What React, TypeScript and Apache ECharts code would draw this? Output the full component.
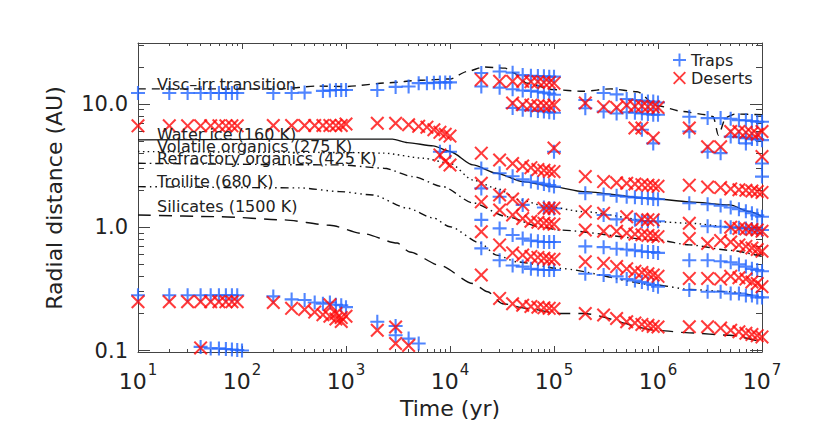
import React, { useEffect, useRef } from "react";
import * as echarts from "echarts";

// ---------- boundary lines: [time (yr), radial distance (AU)] ----------
const viscIrrLine = [[10, 13.3], [232, 13.3], [525, 14.0], [1000, 13.9], [2630, 14.9], [5100, 15.6], [1e4, 16.0], [1.46e4, 18.4], [2.1e4, 20.0], [3.4e4, 19.6], [4.1e4, 17.9], [5.5e4, 14.8], [9.8e4, 13.1], [1.9e5, 12.7], [3.5e5, 13.3], [6.3e5, 12.6], [9.8e5, 9.7], [1.74e6, 8.7], [2.9e6, 8.2], [3.4e6, 7.9], [3.8e6, 5.6], [4.5e6, 7.8], [5.5e6, 8.3], [1e7, 8.2]];
const waterIceLine = [[10, 5.13], [1100, 5.2], [2800, 5.2], [3900, 4.87], [6900, 4.58], [1e4, 4.12], [1.66e4, 3.21], [2.8e4, 2.75], [5e4, 2.35], [9.8e4, 2.14], [1.9e5, 1.95], [8.3e5, 1.72], [2e6, 1.61], [4.9e6, 1.52], [7.6e6, 1.34], [1e7, 1.22]];
const volatileLine = [[10, 4.12], [1000, 4.05], [2300, 4.0], [5500, 3.64], [1e4, 3.31], [1.66e4, 2.42], [2.8e4, 2.07], [4.7e4, 1.67], [8.1e4, 1.49], [1.9e5, 1.34], [9.8e5, 1.11], [2e6, 1.08], [4.9e6, 1.01], [1e7, 0.89]];
const refractoryLine = [[10, 3.31], [870, 3.21], [2300, 3.02], [4400, 2.58], [8500, 2.14], [1.66e4, 1.58], [3.5e4, 1.22], [7.4e4, 1.01], [1.1e5, 0.95], [9.8e5, 0.79], [2e6, 0.72], [4.9e6, 0.65], [1e7, 0.58]];
const troiliteLine = [[10, 2.14], [360, 2.09], [870, 1.95], [1800, 1.83], [3900, 1.43], [6900, 1.19], [1e4, 1.01], [1.95e4, 0.745], [2.8e4, 0.595], [4.4e4, 0.525], [1.1e5, 0.464], [9.8e5, 0.34], [2e6, 0.313], [4.9e6, 0.30], [1e7, 0.27]];
const silicatesLine = [[10, 1.26], [62, 1.22], [248, 1.15], [700, 1.04], [1450, 0.89], [3100, 0.745], [4100, 0.63], [8000, 0.49], [1.66e4, 0.35], [2.3e4, 0.30], [3.2e4, 0.24], [5.5e4, 0.22], [1.1e5, 0.2], [1.9e5, 0.2], [9.8e5, 0.146], [2e6, 0.139], [4.9e6, 0.133], [1e7, 0.117]];

const lineNames = ["Visc\u2013irr transition", "Water ice (160 K)", "Volatile organics (275 K)", "Refractory organics (425 K)", "Troilite (680 K)", "Silicates (1500 K)"];

// ---------- traps (+) ----------
const trapsEarlyOuter = [[10, 12.3], [20, 12.3], [30, 12.3], [40, 12.3], [50, 12.3], [60, 12.3], [70, 12.3], [80, 12.3], [90, 12.3], [200, 12.3], [300, 12.3], [400, 12.4], [600, 12.8], [700, 12.9], [800, 13.0], [900, 13.0], [1000, 13.0], [2000, 13.0], [3000, 13.8], [4000, 13.9], [5000, 14.8], [6000, 14.8], [7000, 14.9], [8000, 15.0], [9000, 15.0], [1e4, 15.0]];
const trapsEarlyInner = [[10, 0.281], [20, 0.281], [30, 0.281], [40, 0.281], [50, 0.281], [60, 0.281], [70, 0.281], [80, 0.281], [90, 0.281], [200, 0.275], [300, 0.26], [400, 0.257], [500, 0.245], [600, 0.24], [700, 0.245], [800, 0.235], [900, 0.233], [1000, 0.225], [2000, 0.171], [3000, 0.158], [3000, 0.133], [4000, 0.125], [5000, 0.114]];
const trapsEarlyBottom = [[40, 0.107], [50, 0.104], [60, 0.104], [70, 0.103], [80, 0.102], [90, 0.101], [100, 0.1]];
const trapsMidEarly = [[8000, 4.1], [1e4, 4.1], [1e5, 4.1]];
const trapsVisc = [[2e4, 17.9], [2e4, 13.9], [3e4, 18.4], [3e4, 13.6], [4e4, 18.0], [4e4, 13.2], [4e4, 9.3], [5e4, 17.2], [5e4, 12.9], [5e4, 9.0], [6e4, 17.0], [6e4, 12.8], [6e4, 8.9], [7e4, 16.9], [7e4, 12.6], [7e4, 8.8], [8e4, 16.8], [8e4, 12.4], [8e4, 8.7], [9e4, 16.7], [9e4, 12.2], [9e4, 8.6], [1e5, 16.7], [1e5, 11.9], [1e5, 8.5]];
const trapsViscLate = [[2e5, 10.8], [2e5, 9.25], [3e5, 12.3], [3e5, 8.7], [4e5, 12.0], [4e5, 8.4], [5e5, 11.0], [5e5, 8.6], [6e5, 10.8], [6e5, 8.5], [7e5, 10.7], [7e5, 8.4], [7e5, 6.2], [8e5, 10.5], [8e5, 8.3], [9e5, 10.5], [9e5, 8.2], [9e5, 4.8], [1e6, 10.3], [1e6, 8.2], [2e6, 7.9], [2e6, 6.0], [3e6, 7.7], [3e6, 4.1], [4e6, 7.7], [4e6, 4.0], [5e6, 7.6], [5e6, 5.45], [6e6, 7.4], [6e6, 5.4], [7e6, 7.4], [7e6, 5.3], [7e6, 4.8], [8e6, 7.3], [8e6, 5.2], [9e6, 7.2], [9e6, 5.2], [1e7, 7.2], [1e7, 5.1], [1e7, 3.3], [1e7, 2.58]];
const trapsWater = [[2e4, 3.0], [3e4, 2.75], [4e4, 2.6], [5e4, 2.45], [6e4, 2.35], [7e4, 2.3], [8e4, 2.25], [9e4, 2.2], [1e5, 2.14], [2e5, 1.89], [3e5, 1.85], [4e5, 1.8], [5e5, 1.77], [6e5, 1.75], [7e5, 1.73], [8e5, 1.72], [9e5, 1.7], [1e6, 1.69], [2e6, 1.57], [3e6, 1.54], [4e6, 1.5], [5e6, 1.45], [6e6, 1.4], [7e6, 1.35], [8e6, 1.3], [9e6, 1.25], [1e7, 1.22]];
const trapsVolatile = [[2e4, 2.07], [3e4, 1.77], [5e4, 1.52], [8e4, 1.45], [9e4, 1.43], [1e5, 1.42], [3e5, 1.26], [4e5, 1.16], [6e5, 1.15], [7e5, 1.12], [8e5, 1.12], [1e6, 1.12], [3e6, 1.02], [4e6, 1.01], [5e6, 1.0], [6e6, 0.99], [7e6, 0.98], [8e6, 0.97], [9e6, 0.96], [1e7, 0.95]];
const trapsMid = [[2e4, 1.15], [3e4, 0.98], [4e4, 0.866], [5e4, 0.81], [6e4, 0.78], [7e4, 0.77], [8e4, 0.76], [9e4, 0.76], [1e5, 0.76], [2e5, 0.70], [3e5, 0.69], [4e5, 0.67], [5e5, 0.66], [6e5, 0.65], [7e5, 0.64], [8e5, 0.63], [9e5, 0.63], [1e6, 0.62], [2e6, 0.54], [3e6, 0.54], [4e6, 0.53], [5e6, 0.52], [6e6, 0.5], [7e6, 0.48], [8e6, 0.46], [9e6, 0.45], [1e7, 0.44]];
const trapsTroilite = [[2e4, 0.675], [3e4, 0.54], [4e4, 0.49], [5e4, 0.48], [6e4, 0.46], [7e4, 0.455], [8e4, 0.45], [9e4, 0.45], [1e5, 0.45], [2e5, 0.42], [3e5, 0.41], [4e5, 0.40], [5e5, 0.38], [6e5, 0.37], [7e5, 0.36], [8e5, 0.35], [9e5, 0.34], [1e6, 0.33], [2e6, 0.31], [3e6, 0.30], [4e6, 0.30], [5e6, 0.29], [6e6, 0.29], [7e6, 0.28], [8e6, 0.28], [9e6, 0.27], [1e7, 0.27]];

// ---------- deserts (x) ----------
const desertsEarlyOuter = [[10, 6.66], [20, 6.66], [30, 6.66], [40, 6.66], [50, 6.66], [60, 6.66], [70, 6.66], [80, 6.66], [90, 6.66], [200, 6.7], [300, 6.7], [400, 6.7], [500, 6.7], [600, 6.7], [700, 6.7], [800, 6.7], [900, 6.7], [1000, 6.9], [2000, 7.0], [3000, 7.0], [4000, 6.8], [5000, 6.6], [6000, 6.5], [7000, 6.2], [8000, 5.9], [9000, 5.7], [1e4, 5.5]];
const desertsEarlyInner = [[10, 0.249], [20, 0.249], [30, 0.249], [40, 0.249], [50, 0.249], [60, 0.249], [70, 0.249], [80, 0.249], [90, 0.249], [200, 0.245], [300, 0.22], [400, 0.215], [500, 0.205], [600, 0.195], [700, 0.235], [700, 0.19], [800, 0.18], [800, 0.2], [900, 0.185], [900, 0.172], [1000, 0.19], [2000, 0.146], [3000, 0.155], [3000, 0.114], [4000, 0.11]];
const desertsEarlyBottom = [[40, 0.105]];
const desertsMidEarly = [[8000, 3.87], [9000, 3.42], [1e4, 3.2], [1e5, 4.4]];
const desertsVisc = [[2e4, 15.8], [3e4, 15.3], [4e4, 15.3], [4e4, 10.2], [5e4, 15.3], [5e4, 9.9], [6e4, 15.2], [6e4, 9.8], [7e4, 15.2], [7e4, 9.7], [8e4, 15.0], [8e4, 9.7], [9e4, 15.0], [9e4, 9.6], [1e5, 14.8], [1e5, 9.85]];
const desertsViscLate = [[2e5, 10.2], [3e5, 9.5], [4e5, 9.4], [5e5, 9.8], [6e5, 9.6], [6e5, 6.4], [7e5, 9.6], [7e5, 6.4], [8e5, 9.5], [9e5, 9.5], [9e5, 5.3], [1e6, 9.4], [2e6, 6.4], [3e6, 4.5], [4e6, 4.5], [5e6, 6.0], [6e6, 6.0], [7e6, 5.9], [8e6, 5.8], [9e6, 5.7], [1e7, 6.0], [1e7, 3.75]];
const desertsAboveWater = [[2e4, 4.0], [3e4, 3.52], [4e4, 3.3], [5e4, 3.15], [6e4, 3.05], [7e4, 2.95], [8e4, 2.9], [9e4, 2.85], [1e5, 2.83], [2e5, 2.58], [3e5, 2.35], [4e5, 2.3], [5e5, 2.28], [6e5, 2.25], [7e5, 2.22], [8e5, 2.2], [9e5, 2.18], [1e6, 2.15], [2e6, 2.2], [3e6, 2.12], [4e6, 2.1], [5e6, 2.05], [6e6, 2.02], [7e6, 2.0], [8e6, 1.97], [9e6, 1.95], [1e7, 1.92]];
const desertsVolatile = [[2e4, 2.28], [3e4, 1.83], [4e4, 1.7], [5e4, 1.52], [8e4, 1.43], [9e4, 1.43], [1e5, 1.43], [2e5, 1.34], [3e5, 1.3], [5e5, 1.22], [7e5, 1.16], [8e5, 1.15], [9e5, 1.15], [2e6, 1.08], [5e6, 1.0], [6e6, 0.98], [7e6, 0.97], [8e6, 0.96], [9e6, 0.95], [1e7, 0.93]];
const desertsRefractory = [[2e4, 1.61], [3e4, 1.38], [4e4, 1.26], [5e4, 1.18], [6e4, 1.12], [7e4, 1.1], [8e4, 1.08], [9e4, 1.07], [1e5, 1.06], [2e5, 0.95], [3e5, 0.93], [4e5, 0.93], [5e5, 0.9], [6e5, 0.88], [7e5, 0.87], [8e5, 0.86], [9e5, 0.85], [1e6, 0.84], [2e6, 0.81], [3e6, 0.74], [4e6, 0.78], [5e6, 0.76], [6e6, 0.72], [7e6, 0.7], [8e6, 0.68], [9e6, 0.66], [1e7, 0.64]];
const desertsTroilite = [[2e4, 0.92], [3e4, 0.72], [4e4, 0.62], [5e4, 0.595], [6e4, 0.58], [7e4, 0.57], [8e4, 0.56], [9e4, 0.55], [1e5, 0.55], [2e5, 0.525], [3e5, 0.51], [4e5, 0.48], [5e5, 0.46], [6e5, 0.44], [7e5, 0.43], [8e5, 0.42], [9e5, 0.41], [1e6, 0.40], [2e6, 0.385], [3e6, 0.385], [4e6, 0.38], [5e6, 0.4], [6e6, 0.39], [7e6, 0.38], [8e6, 0.36], [9e6, 0.35], [1e7, 0.33]];
const desertsSilicates = [[2e4, 0.41], [3e4, 0.265], [4e4, 0.24], [5e4, 0.233], [6e4, 0.228], [7e4, 0.225], [8e4, 0.222], [9e4, 0.22], [1e5, 0.218], [2e5, 0.2], [3e5, 0.194], [4e5, 0.182], [5e5, 0.171], [6e5, 0.167], [7e5, 0.163], [8e5, 0.16], [9e5, 0.157], [1e6, 0.155], [2e6, 0.156], [3e6, 0.156], [4e6, 0.152], [5e6, 0.146], [6e6, 0.142], [7e6, 0.138], [8e6, 0.135], [9e6, 0.132], [1e7, 0.129]];

// ---------- axes ----------
const xTickExponents = [1, 2, 3, 4, 5, 6, 7];
const yTickValues = [0.1, 1, 10];
const yTickLabels = ["0.1", "1.0", "10.0"];
const X_MIN = 1, X_MAX = 7;
const Y_MIN = -1.012, Y_MAX = 1.496;

const FONT = "'DejaVu Sans', sans-serif";
const TEXT = "#222";
const AXIS = "#444";
const BLUE = "#2466ff";
const RED = "#ff0a0a";

const L = Math.log10;
const toLog = (arr: number[][]) => arr.map(([t, r]) => [L(t), L(r)]);

const PLUS = "path://M5.1,0H6.9V5.1H12V6.9H6.9V12H5.1V6.9H0V5.1H5.1Z";
const d = 1.25;
const CROSS = `path://M${d},0L6,${6 - d}L${12 - d},0L12,${d}L${6 + d},6L12,${12 - d}L${12 - d},12L6,${6 + d}L${d},12L0,${12 - d}L${6 - d},6L0,${d}Z`;

function buildOption() {
  const minorX: number[] = [];
  for (let n = 1; n < 7; n++) for (let k = 2; k < 10; k++) minorX.push(L(k * Math.pow(10, n)));
  const minorY: number[] = [];
  for (let n = -1; n < 2; n++)
    for (let k = 2; k < 10; k++) {
      const v = L(k * Math.pow(10, n));
      if (v > Y_MIN && v < Y_MAX) minorY.push(v);
    }
  const majorY = yTickValues.map(L);

  const xAxisDef = (position: string, ticks: number[], len: number, line: boolean, labels: boolean) => ({
    type: "value", min: X_MIN, max: X_MAX, position,
    axisLine: { show: line, onZero: false, lineStyle: { color: AXIS, width: 1 } },
    axisTick: { show: true, inside: true, length: len, customValues: ticks, lineStyle: { color: AXIS, width: 1 } },
    axisLabel: labels
      ? {
          show: true, customValues: ticks, margin: 10,
          formatter: (v: number) => `{b|10}{s|${Math.round(v)}}`,
          rich: {
            b: { fontSize: 22, fontFamily: FONT, color: TEXT, lineHeight: 30, verticalAlign: "bottom" },
            s: { fontSize: 15, fontFamily: FONT, color: TEXT, lineHeight: 16, verticalAlign: "top", padding: [0, 0, 0, 1] },
          },
        }
      : { show: false },
    splitLine: { show: false },
  });
  const yAxisDef = (position: string, ticks: number[], len: number, line: boolean, labels: boolean) => ({
    type: "value", min: Y_MIN, max: Y_MAX, position,
    axisLine: { show: line, onZero: false, lineStyle: { color: AXIS, width: 1 } },
    axisTick: { show: true, inside: true, length: len, customValues: ticks, lineStyle: { color: AXIS, width: 1 } },
    axisLabel: labels
      ? {
          show: true, customValues: ticks, margin: 10, fontSize: 21, fontFamily: FONT, color: TEXT,
          formatter: (v: number) => yTickLabels[majorY.findIndex((m) => Math.abs(m - v) < 1e-6)] ?? "",
        }
      : { show: false },
    splitLine: { show: false },
  });

  const lineSeries = (data: number[][], type: any, name: string) => ({
    type: "line", name, data: toLog(data), xAxisIndex: 0, yAxisIndex: 0,
    showSymbol: false, symbol: "none", smooth: 0.25, smoothMonotone: "x",
    lineStyle: { color: "#111", width: 1.4, type },
    silent: true, z: 2,
  });

  const traps = [
    ...trapsEarlyOuter, ...trapsEarlyInner, ...trapsEarlyBottom, ...trapsMidEarly, ...trapsVisc, ...trapsViscLate,
    ...trapsWater, ...trapsVolatile, ...trapsMid, ...trapsTroilite,
  ];
  const deserts = [
    ...desertsEarlyOuter, ...desertsEarlyInner, ...desertsEarlyBottom, ...desertsMidEarly, ...desertsVisc, ...desertsViscLate,
    ...desertsAboveWater, ...desertsVolatile, ...desertsRefractory, ...desertsTroilite, ...desertsSilicates,
  ];

  const labelY = [84, 134.5, 146.5, 158, 181, 206];
  const graphics: any[] = lineNames.map((t, i) => ({
    type: "text", x: 157, y: labelY[i], z: 10, silent: true,
    style: { text: t, fill: TEXT, font: `16px ${FONT}`, textAlign: "left", textVerticalAlign: "middle", align: "left", verticalAlign: "middle" },
  }));
  graphics.push({
    type: "text", x: 54, y: 198, rotation: Math.PI / 2, z: 10, silent: true,
    style: { text: "Radial distance (AU)", fill: TEXT, font: `22px ${FONT}`, textAlign: "center", textVerticalAlign: "middle", align: "center", verticalAlign: "middle" },
  });
  graphics.push({
    type: "text", x: 450, y: 408, z: 10, silent: true,
    style: { text: "Time (yr)", fill: TEXT, font: `22px ${FONT}`, textAlign: "center", textVerticalAlign: "middle", align: "center", verticalAlign: "middle" },
  });

  return {
    animation: false,
    backgroundColor: "#fff",
    grid: { left: 138, right: 68, top: 43, bottom: 88, containLabel: false },
    xAxis: [
      xAxisDef("bottom", xTickExponents, 6, true, true),
      xAxisDef("bottom", minorX, 3, false, false),
      xAxisDef("top", xTickExponents, 6, true, false),
      xAxisDef("top", minorX, 3, false, false),
    ],
    yAxis: [
      yAxisDef("left", majorY, 12, true, true),
      yAxisDef("left", minorY, 6, false, false),
      yAxisDef("right", majorY, 12, true, false),
      yAxisDef("right", minorY, 6, false, false),
    ],
    legend: {
      orient: "vertical", left: 668, top: 47, itemWidth: 13, itemHeight: 13, itemGap: 2,
      selectedMode: false,
      textStyle: { fontSize: 16, fontFamily: FONT, color: TEXT },
      data: ["Traps", "Deserts"],
    },
    graphic: graphics,
    series: [
      lineSeries(viscIrrLine, [8, 6], "visc"),
      lineSeries(waterIceLine, "solid", "water"),
      lineSeries(volatileLine, [1.5, 3.5], "volatile"),
      lineSeries(refractoryLine, [8, 4, 1.5, 4], "refractory"),
      lineSeries(troiliteLine, [8, 4, 1.5, 4, 1.5, 4, 1.5, 4], "troilite"),
      lineSeries(silicatesLine, [13, 8], "silicates"),
      {
        type: "scatter", name: "Traps", symbol: PLUS, symbolSize: 14, data: toLog(traps),
        itemStyle: { color: BLUE }, xAxisIndex: 0, yAxisIndex: 0, z: 3, silent: true,
      },
      {
        type: "scatter", name: "Deserts", symbol: CROSS, symbolSize: 14, data: toLog(deserts),
        itemStyle: { color: RED }, xAxisIndex: 0, yAxisIndex: 0, z: 3, silent: true,
      },
    ],
  };
}

export default function App() {
  const ref = useRef<HTMLDivElement>(null);
  useEffect(() => {
    if (!ref.current) return;
    const chart = echarts.init(ref.current, undefined, { renderer: "svg" });
    chart.setOption(buildOption() as any);
    return () => chart.dispose();
  }, []);
  return <div ref={ref} style={{ position: "absolute", left: 0, top: 0, width: 830, height: 440 }} />;
}
